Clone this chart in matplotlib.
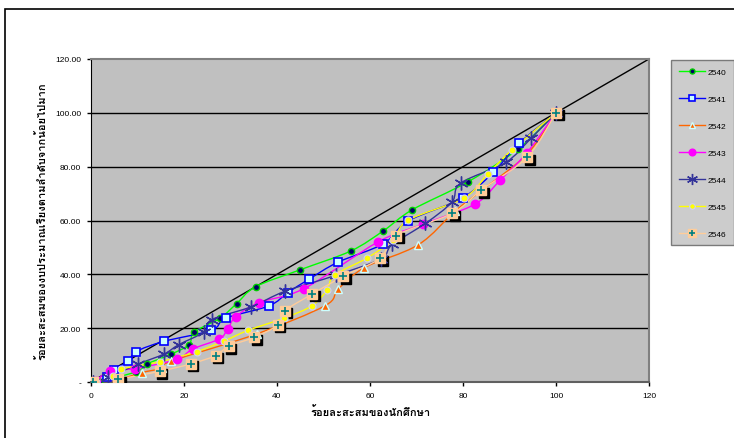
import matplotlib
matplotlib.use("Agg")
import matplotlib.pyplot as plt
import numpy as np
from matplotlib import font_manager
from matplotlib.ft2font import FT2Font
from matplotlib.path import Path
from matplotlib.patches import PathPatch, Rectangle
from matplotlib.transforms import offset_copy

# data (cumulative % students, cumulative % budget)
x_2540 = [1.8, 9.7, 12.1, 17.3, 21.1, 22.2, 27.8, 31.3, 35.4, 45.0, 55.9, 62.9, 69.1, 81.1, 91.8, 100]
y_2540 = [0.1, 3.8, 6.7, 10.4, 13.9, 18.5, 23.8, 29.1, 35.4, 41.7, 48.7, 56.2, 64.0, 74.4, 86.5, 100]
x_2541 = [0.5, 3.5, 4.9, 8.0, 9.7, 15.7, 25.9, 29.0, 38.3, 42.3, 46.9, 53.1, 62.9, 68.2, 79.9, 86.5, 92.1, 100]
y_2541 = [0.1, 1.7, 4.6, 7.7, 11.3, 15.1, 19.2, 23.7, 28.3, 33.2, 38.2, 44.5, 51.4, 59.8, 68.4, 77.9, 88.7, 100]
x_2542 = [0.4, 5.5, 10.9, 15.2, 17.2, 35.7, 50.3, 53.2, 58.8, 70.4, 78.3, 84.1, 93.8, 100]
y_2542 = [0.0, 0.7, 3.5, 5.1, 7.7, 17.9, 28.3, 34.6, 42.5, 51.0, 63.5, 71.3, 84.7, 100]
x_2543 = [1.0, 4.1, 9.5, 18.4, 21.9, 27.6, 29.4, 31.1, 36.1, 45.8, 61.8, 71.5, 82.6, 88.0, 93.7, 100]
y_2543 = [0.3, 4.2, 5.0, 8.4, 12.3, 16.0, 19.7, 24.2, 29.5, 34.7, 52.1, 58.7, 66.1, 75.0, 85.1, 100]
x_2544 = [0.4, 3.6, 10.2, 15.7, 18.9, 24.2, 26.0, 34.4, 41.7, 52.6, 62.3, 64.8, 71.9, 77.6, 79.5, 89.2, 94.6, 100]
y_2544 = [0.0, 1.7, 6.7, 10.4, 13.9, 18.5, 23.2, 27.9, 33.7, 39.6, 45.7, 51.1, 58.9, 66.8, 73.9, 81.6, 90.5, 100]
x_2545 = [1.0, 4.8, 6.5, 14.8, 22.7, 28.7, 33.8, 41.6, 47.5, 50.7, 52.4, 59.3, 64.9, 68.2, 80.2, 85.3, 90.5, 100]
y_2545 = [0.0, 2.3, 4.8, 7.5, 11.3, 15.3, 19.2, 23.8, 28.3, 34.1, 39.7, 46.0, 52.7, 60.1, 68.4, 77.2, 86.2, 100]
x_2546 = [0.5, 5.9, 14.8, 21.4, 26.8, 29.6, 35.1, 40.2, 41.7, 47.6, 54.3, 62.2, 65.6, 77.7, 83.9, 93.8, 100]
y_2546 = [0.1, 1.1, 4.0, 6.7, 9.8, 13.3, 16.6, 21.2, 26.4, 32.7, 39.3, 46.0, 54.4, 62.7, 71.3, 83.5, 100]

years = ["2540", "2541", "2542", "2543", "2544", "2545", "2546"]
xs = [x_2540, x_2541, x_2542, x_2543, x_2544, x_2545, x_2546]
ys = [y_2540, y_2541, y_2542, y_2543, y_2544, y_2545, y_2546]

x_ticks = [0, 20, 40, 60, 80, 100, 120]
y_ticks = [0, 20, 40, 60, 80, 100, 120]
y_ticklabels = ["-", "20.00", "40.00", "60.00", "80.00", "100.00", "120.00"]

x_title = "ร้อยละสะสมของนักศึกษา"
y_title = "ร้อยละสะสมของงบประมาณเรียงตามลำดับจากน้อยไปมาก"


def find_thai_font():
    #pick any installed font that has Thai glyphs
    for f in font_manager.fontManager.ttflist:
        try:
            ft = FT2Font(f.fname)
            if ft.get_char_index(ord("ก")) and ft.get_char_index(ord("ม")):
                return f.name
        except Exception:
            continue
    return None


thai = find_thai_font()
fam = [thai, "DejaVu Sans"] if thai else ["DejaVu Sans"]
plt.rcParams["font.family"] = ["Liberation Sans", "DejaVu Sans"]


def smooth_path(x, y):
    #excel style smoothed line (bezier through the points)
    pts = np.column_stack([x, y]).astype(float)
    n = len(pts)
    verts = [pts[0]]
    codes = [Path.MOVETO]
    for i in range(n - 1):
        p0 = pts[i - 1] if i > 0 else pts[i]
        p1 = pts[i]
        p2 = pts[i + 1]
        p3 = pts[i + 2] if i + 2 < n else pts[i + 1]
        verts += [p1 + (p2 - p0) / 6, p2 - (p3 - p1) / 6, p2]
        codes += [Path.CURVE4] * 3
    return Path(verts, codes)


styles = {
    "2540": dict(color="#00FF00", marker="o", ms=4.5, mfc="#000066", mec="#00CC00", mew=1.0),
    "2541": dict(color="#0000FF", marker="s", ms=6, mfc="#CCFFFF", mec="#0000FF", mew=1.2),
    "2542": dict(color="#FF6600", marker="^", ms=6, mfc="#FF6600", mec="#CCFFFF", mew=1.0),
    "2543": dict(color="#FF00FF", marker="o", ms=6, mfc="#FF00FF", mec="#FF00FF", mew=1.0),
    "2544": dict(color="#333399", marker=(6, 2, 0), ms=10, mfc="#333399", mec="#333399", mew=1.0),
    "2545": dict(color="#FFFF00", marker="o", ms=5, mfc="#FFFF00", mec="#CCCCFF", mew=0.8),
    "2546": dict(color="#FFCC99", marker="s", ms=7, mfc="#FFCC99", mec="#FFCC99", mew=1.0),
}

fig = plt.figure(figsize=(7.34, 4.39), dpi=100)
W, H = 734, 439

#outer frame of the chart object
fig.patches.append(Rectangle((5 / W, -0.1), 1.0, 1 - 10 / H + 0.1, transform=fig.transFigure,
                             fill=False, edgecolor="black", linewidth=1.2))

ax = fig.add_axes([91 / W, 1 - 383 / H, (649 - 91) / W, (383 - 60) / H])
ax.set_facecolor("#C0C0C0")
ax.set_xlim(0, 120)
ax.set_ylim(0, 120)

for v in y_ticks[1:-1]:
    ax.axhline(v, color="black", linewidth=1.0, zorder=1)

ax.plot([0, 120], [0, 120], color="black", linewidth=1.0, zorder=2)

handles = []
for yr, x, y in zip(years, xs, ys):
    st = styles[yr]
    ax.add_patch(PathPatch(smooth_path(x, y), facecolor="none", edgecolor=st["color"],
                           linewidth=1.0, zorder=3))
    if yr == "2546":
        shadow = offset_copy(ax.transData, fig=fig, x=1.8, y=-1.8, units="points")
        ax.plot(x, y, linestyle="none", marker="s", ms=7, mfc="black", mec="black",
                transform=shadow, zorder=4)
    ax.plot(x, y, linestyle="none", marker=st["marker"], ms=st["ms"], mfc=st["mfc"],
            mec=st["mec"], mew=st["mew"], zorder=5)
    if yr == "2546":
        ax.plot(x, y, linestyle="none", marker="+", ms=6, mec="#008080", mew=1.2, zorder=6)
    h, = ax.plot([], [], color=st["color"], linewidth=1.0, marker=st["marker"],
                 ms=st["ms"] * 0.8, mfc=st["mfc"], mec=st["mec"], mew=st["mew"])
    if yr == "2546":
        hp, = ax.plot([], [], linestyle="none", marker="+", ms=5, mec="#008080", mew=1.2)
        h = (h, hp)
    handles.append(h)

ax.set_xticks(x_ticks)
ax.set_yticks(y_ticks)
ax.set_yticklabels(y_ticklabels)
ax.tick_params(axis="both", labelsize=6, length=3, width=1, direction="out", pad=4)
for s in ["top", "right"]:
    ax.spines[s].set_color("#808080")
    ax.spines[s].set_linewidth(1.5)
ax.spines["left"].set_color("black")
ax.spines["bottom"].set_color("#606060")
ax.spines["bottom"].set_linewidth(1.5)

ax.set_xlabel(x_title, family=fam, fontsize=8, fontweight="bold", labelpad=5)
ax.set_ylabel(y_title, family=fam, fontsize=8, fontweight="bold", labelpad=5)

leg = fig.legend(handles, years, loc="upper left", bbox_to_anchor=(667 / W, 1 - 57 / H),
                 fontsize=6, frameon=True, fancybox=False, labelspacing=2.3,
                 handlelength=3.2, borderpad=0.9, handletextpad=0.3)
leg.get_frame().set_facecolor("#C0C0C0")
leg.get_frame().set_edgecolor("#606060")
leg.get_frame().set_linewidth(1.0)

fig.savefig("out.png", dpi=100)
